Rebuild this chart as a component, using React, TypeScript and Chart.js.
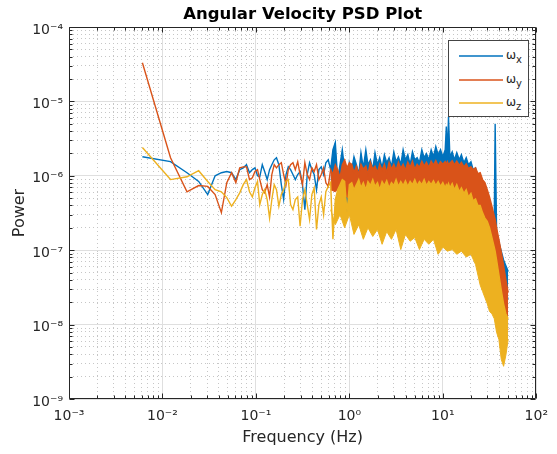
import React, { useEffect, useRef } from 'react';
import { Chart, registerables } from 'chart.js';

Chart.register(...registerables);

// ---------- data ----------
const FREQS = [
  0.0061, 0.0122, 0.0183, 0.0244, 0.0305, 0.0366, 0.0427, 0.0488, 0.0549, 0.061,
  0.0671, 0.0732, 0.0793, 0.0854, 0.0916, 0.0977, 0.104, 0.11, 0.117, 0.124,
  0.132, 0.14, 0.148, 0.157, 0.166, 0.176, 0.187, 0.198, 0.21, 0.222,
  0.235, 0.249, 0.264, 0.28, 0.297, 0.315, 0.334, 0.354, 0.375, 0.397,
  0.42, 0.445, 0.472, 0.5, 0.53, 0.56, 0.594, 0.63, 0.667, 0.707,
  0.75, 0.794, 0.84, 0.89, 0.944, 1.0, 1.06, 1.12, 1.19, 1.26,
  1.33, 1.41, 1.5, 1.58, 1.68, 1.78, 1.88, 2.0, 2.11, 2.24,
  2.37, 2.51, 2.66, 2.82, 2.99, 3.16, 3.35, 3.55, 3.76, 3.98,
  4.22, 4.47, 4.73, 5.01, 5.31, 5.62, 5.96, 6.31, 6.68, 7.08,
  7.5, 7.94, 8.41, 8.91, 9.44, 10.0, 10.6, 10.9, 11.2, 11.5,
  11.9, 12.6, 13.3, 14.1, 15.0, 15.8, 16.8, 17.8, 18.8, 20.0,
  21.1, 22.4, 23.7, 25.1, 26.6, 28.2, 29.9, 31.6, 33.5, 35.5,
  36.3, 37.6, 39.8, 42.2, 44.7, 47.3, 50.0,
];

const OMEGA_X = [
  1.8e-6, 1.55e-6, 1.1e-6, 8.4e-7, 5.6e-7, 1.0e-6, 1.1e-6, 1.14e-6, 1.1e-6, 8.9e-7,
  1.21e-6, 1.28e-6, 1.41e-6, 1.1e-6, 1.21e-6, 1.28e-6, 1.0e-6, 9.7e-7, 1.41e-6, 1.14e-6,
  8.9e-7, 1.21e-6, 1.41e-6, 1.64e-6, 1.75e-6, 1.41e-6, 7.6e-7, 4.8e-7, 1.04e-6, 1.32e-6,
  1.21e-6, 1.04e-6, 8.9e-7, 1.04e-6, 1.14e-6, 7.6e-7, 3.5e-7, 1.04e-6, 1.5e-6, 1.21e-6,
  1.04e-6, 6.5e-7, 1.21e-6, 1.32e-6, 1.04e-6, 1.5e-6, 1.64e-6, 1.21e-6, 2.24e-6, 2.8e-6,
  8.9e-7, 1.41e-6, 2.24e-6, 1.21e-6, 2.6e-7, 1.5e-6, 1.21e-6, 1.8e-6, 1.41e-6, 1.04e-6,
  2.04e-6, 1.28e-6, 2.24e-6, 1.41e-6, 1.64e-6, 1.21e-6, 2.04e-6, 1.41e-6, 1.75e-6, 1.28e-6,
  1.92e-6, 1.5e-6, 1.75e-6, 1.32e-6, 2.1e-6, 1.55e-6, 1.8e-6, 1.41e-6, 2.24e-6, 1.64e-6,
  1.92e-6, 1.41e-6, 2.1e-6, 1.64e-6, 1.75e-6, 1.5e-6, 2.24e-6, 1.75e-6, 1.98e-6, 1.64e-6,
  2.24e-6, 1.8e-6, 2.47e-6, 1.92e-6, 2.24e-6, 1.8e-6, 2.24e-6, 4.6e-6, 1.92e-6, 6.2e-6,
  1.8e-6, 2.1e-6, 1.64e-6, 2.04e-6, 1.64e-6, 1.92e-6, 1.5e-6, 1.75e-6, 1.41e-6, 1.55e-6,
  1.21e-6, 1.28e-6, 9.7e-7, 1.0e-6, 7.4e-7, 6.5e-7, 5.2e-7, 4.1e-7, 3.3e-7, 2.6e-7,
  5.0e-6, 1.78e-7, 1.28e-7, 9.7e-8, 7.4e-8, 6.2e-8, 5.2e-8,
];

const OMEGA_Y = [
  3.3e-5, 1.75e-6, 6.1e-7, 7.4e-7, 7.2e-7, 5.6e-7, 3.2e-7, 8.1e-7, 1.1e-6, 8.1e-7,
  1.28e-6, 1.32e-6, 1.32e-6, 8.9e-7, 9.4e-7, 1.14e-6, 1.21e-6, 8.9e-7, 6.5e-7, 5.9e-7,
  7.6e-7, 5.2e-7, 1.04e-6, 1.41e-6, 1.28e-6, 1.41e-6, 1.5e-6, 1.04e-6, 7.6e-7, 1.21e-6,
  1.41e-6, 1.5e-6, 1.21e-6, 1.55e-6, 1.04e-6, 7.6e-7, 1.5e-6, 1.04e-6, 8.9e-7, 1.28e-6,
  1.14e-6, 1.41e-6, 8.9e-7, 1.04e-6, 1.28e-6, 8.1e-7, 7.2e-7, 1.21e-6, 1.04e-6, 1.41e-6,
  1.21e-6, 9.4e-7, 1.41e-6, 1.64e-6, 1.28e-6, 1.5e-6, 1.43e-6, 1.11e-6, 1.35e-6, 1.05e-6,
  1.43e-6, 1.23e-6, 1.35e-6, 1.05e-6, 1.52e-6, 1.23e-6, 1.35e-6, 1.11e-6, 1.43e-6, 1.19e-6,
  1.43e-6, 1.11e-6, 1.52e-6, 1.23e-6, 1.43e-6, 1.19e-6, 1.52e-6, 1.26e-6, 1.43e-6, 1.19e-6,
  1.52e-6, 1.3e-6, 1.57e-6, 1.23e-6, 1.43e-6, 1.3e-6, 1.57e-6, 1.35e-6, 1.52e-6, 1.3e-6,
  1.57e-6, 1.39e-6, 1.6e-6, 1.35e-6, 1.55e-6, 1.43e-6, 1.55e-6, 1.43e-6, 1.55e-6, 1.43e-6,
  1.48e-6, 1.6e-6, 1.4e-6, 1.58e-6, 1.38e-6, 1.52e-6, 1.32e-6, 1.45e-6, 1.25e-6, 1.32e-6,
  1.21e-6, 1.28e-6, 1.07e-6, 1.1e-6, 8.9e-7, 8.1e-7, 6.5e-7, 5.2e-7, 3.9e-7, 2.9e-7,
  2.6e-7, 2.0e-7, 1.4e-7, 9.4e-8, 6.2e-8, 4.0e-8, 2.7e-8,
];

const OMEGA_Z = [
  2.4e-6, 8.9e-7, 9.7e-7, 1.17e-6, 8.4e-7, 6.5e-7, 6.1e-7, 5.1e-7, 3.9e-7, 4.8e-7,
  5.9e-7, 7.6e-7, 8.9e-7, 6.1e-7, 5.2e-7, 6.9e-7, 8.4e-7, 4.1e-7, 5.6e-7, 6.5e-7,
  4.8e-7, 2.7e-7, 4.8e-7, 7.6e-7, 6.5e-7, 3.9e-7, 5.6e-7, 6.5e-7, 8.4e-7, 8.9e-7,
  4.1e-7, 3.5e-7, 4.8e-7, 5.2e-7, 2.1e-7, 4.8e-7, 6.5e-7, 4.1e-7, 2.6e-7, 5.6e-7,
  6.9e-7, 1.9e-7, 4.1e-7, 5.2e-7, 3.0e-7, 6.1e-7, 7.2e-7, 8.1e-7, 1.4e-7, 4.8e-7,
  6.5e-7, 7.6e-7, 8.9e-7, 8.4e-7, 3.2e-7, 7.6e-7, 8.1e-7, 6.5e-7, 7.6e-7, 8.9e-7,
  6.9e-7, 8.1e-7, 6.5e-7, 8.4e-7, 7.4e-7, 8.9e-7, 7.2e-7, 8.1e-7, 6.5e-7, 8.4e-7,
  7.4e-7, 8.6e-7, 6.9e-7, 8.1e-7, 7.4e-7, 8.9e-7, 7.2e-7, 8.4e-7, 7.4e-7, 8.6e-7,
  7.2e-7, 8.4e-7, 7.6e-7, 8.9e-7, 7.4e-7, 8.4e-7, 7.6e-7, 8.9e-7, 7.4e-7, 8.4e-7,
  7.6e-7, 8.6e-7, 7.4e-7, 8.4e-7, 7.2e-7, 8.1e-7, 6.9e-7, 7.6e-7, 7.2e-7, 7.9e-7,
  6.9e-7, 7.9e-7, 6.5e-7, 7.6e-7, 6.1e-7, 6.9e-7, 5.8e-7, 6.5e-7, 5.2e-7, 5.8e-7,
  4.6e-7, 4.9e-7, 4.0e-7, 4.0e-7, 3.2e-7, 2.7e-7, 2.45e-7, 2.0e-7, 1.48e-7, 1.1e-7,
  9.7e-8, 7.4e-8, 4.7e-8, 2.9e-8, 1.9e-8, 1.4e-8, 1.2e-8,
];

// lower edge of the dense (band-like) part of each spectrum
const BAND_FREQS = [
  0.63, 0.707, 0.794, 0.89,
  1.0, 1.12, 1.26, 1.41, 1.58, 1.78, 2.0, 2.24, 2.51, 2.82,
  3.16, 3.55, 3.98, 4.47, 5.01, 5.62, 6.31, 7.08, 7.94, 8.91,
  10.0, 11.2, 12.6, 14.1, 15.8, 17.8, 20.0, 22.4, 25.1, 26.6,
  28.2, 29.9, 31.6, 33.5, 35.5, 37.6, 39.8, 42.2, 44.7, 47.3, 50.0,
];

const OMEGA_X_LOW = [
  8.9e-7, 7.6e-7, 8.1e-7, 7.9e-7,
  7.6e-7, 7.2e-7, 8.0e-7, 7.4e-7, 7.8e-7, 7.2e-7, 7.6e-7, 7.9e-7, 7.3e-7, 7.6e-7,
  7.1e-7, 7.7e-7, 7.4e-7, 7.8e-7, 7.3e-7, 7.6e-7, 7.2e-7, 7.7e-7, 7.4e-7, 7.8e-7,
  7.3e-7, 7.6e-7, 7.4e-7, 7.7e-7, 7.3e-7, 7.5e-7, 7.6e-7, 6.9e-7, 6.5e-7, 5.6e-7,
  4.8e-7, 4.1e-7, 3.3e-7, 2.6e-7, 2.0e-7, 1.4e-7, 1.02e-7, 7.0e-8, 4.7e-8, 2.9e-8, 2.2e-8,
];

const OMEGA_Y_LOW = [
  6.5e-7, 6.1e-7, 6.9e-7, 5.6e-7,
  4.8e-7, 4.1e-7, 4.4e-7, 3.9e-7, 4.2e-7, 4.0e-7, 4.3e-7, 3.8e-7, 4.2e-7, 4.0e-7,
  4.3e-7, 3.9e-7, 4.1e-7, 4.4e-7, 3.9e-7, 4.2e-7, 4.0e-7, 4.3e-7, 3.9e-7, 4.1e-7,
  4.2e-7, 4.0e-7, 4.3e-7, 3.9e-7, 4.1e-7, 4.0e-7, 3.7e-7, 3.3e-7, 2.7e-7, 2.2e-7,
  2.0e-7, 1.78e-7, 1.4e-7, 1.02e-7, 7.4e-8, 5.2e-8, 3.4e-8, 2.2e-8, 1.4e-8, 1.0e-8, 8.5e-9,
];

const OMEGA_Z_LOW = [
  3.5e-7, 2.2e-7, 3.0e-7, 2.0e-7,
  3.0e-7, 1.63e-7, 2.2e-7, 1.4e-7, 2.0e-7, 1.53e-7, 1.9e-7, 1.2e-7, 1.78e-7, 1.4e-7,
  1.9e-7, 1.02e-7, 1.63e-7, 1.32e-7, 1.48e-7, 1.02e-7, 1.4e-7, 1.2e-7, 1.4e-7, 8.8e-8,
  1.1e-7, 9.7e-8, 1.02e-7, 8.8e-8, 9.7e-8, 8.1e-8, 8.8e-8, 6.4e-8, 3.4e-8, 2.8e-8,
  2.3e-8, 1.9e-8, 1.5e-8, 1.4e-8, 1.2e-8, 7.9e-9, 6.3e-9, 3.4e-9, 2.75e-9, 3.9e-9, 6.3e-9,
];

const SERIES_SUBS = ['x', 'y', 'z'];
const SERIES_COLORS = ['#0072BD', '#D95319', '#EDB120'];

const X_DECADES = [1e-3, 1e-2, 1e-1, 1, 10, 100];
const Y_DECADES = [1e-9, 1e-8, 1e-7, 1e-6, 1e-5, 1e-4];
const X_TICK_LABELS = ['10⁻³', '10⁻²', '10⁻¹', '10⁰', '10¹', '10²'];
const Y_TICK_LABELS = ['10⁻⁹', '10⁻⁸', '10⁻⁷', '10⁻⁶', '10⁻⁵', '10⁻⁴'];
const MANTISSAS = [1, 2, 3, 4, 5, 6, 7, 8, 9];

const TITLE = 'Angular Velocity PSD Plot';
const X_TITLE = 'Frequency (Hz)';
const Y_TITLE = 'Power';

// ---------- styling ----------
const FONT = "'DejaVu Sans', sans-serif";
const TEXT = '#262626';
const MAJOR_GRID = '#dfdfdf';
const MINOR_GRID = '#c6c6c6';

const buildTicks = (decades: number[]) => {
  const out: number[] = [];
  for (let i = 0; i < decades.length - 1; i++) {
    for (const m of MANTISSAS) out.push(decades[i] * m);
  }
  out.push(decades[decades.length - 1]);
  return out;
};
const X_TICKS = buildTicks(X_DECADES);
const Y_TICKS = buildTicks(Y_DECADES);

const isDecade = (v: number) => {
  if (!(v > 0)) return false;
  const l = Math.log10(v);
  return Math.abs(l - Math.round(l)) < 1e-6;
};
const labelFor = (decades: number[], labels: string[]) => (v: number | string) => {
  const n = Number(v);
  const i = decades.findIndex((d) => Math.abs(d - n) / d < 1e-6);
  return i >= 0 ? labels[i] : '';
};

const pts = (fs: number[], ps: number[]) => fs.map((f, i) => ({ x: f, y: ps[i] }));

const boxAndTicks = {
  id: 'boxAndTicks',
  afterDatasetsDraw(chart: any) {
    const { ctx, chartArea: a, scales } = chart;
    const xs = scales.x;
    const ys = scales.y;
    ctx.save();
    ctx.strokeStyle = TEXT;
    ctx.lineWidth = 1;
    ctx.beginPath();
    const L = Math.round(a.left) + 0.5;
    const R = Math.round(a.right) - 0.5;
    const T = Math.round(a.top) + 0.5;
    const B = Math.round(a.bottom) - 0.5;
    for (const t of xs.ticks) {
      const px = Math.round(xs.getPixelForValue(t.value)) + 0.5;
      const len = isDecade(t.value) ? 5 : 3;
      ctx.moveTo(px, B);
      ctx.lineTo(px, B - len);
      ctx.moveTo(px, T);
      ctx.lineTo(px, T + len);
    }
    for (const t of ys.ticks) {
      const py = Math.round(ys.getPixelForValue(t.value)) + 0.5;
      const len = isDecade(t.value) ? 5 : 3;
      ctx.moveTo(L, py);
      ctx.lineTo(L + len, py);
      ctx.moveTo(R, py);
      ctx.lineTo(R - len, py);
    }
    ctx.moveTo(L, T);
    ctx.lineTo(R, T);
    ctx.lineTo(R, B);
    ctx.lineTo(L, B);
    ctx.closePath();
    ctx.stroke();
    ctx.restore();
  },
};

export default function App() {
  const ref = useRef<HTMLCanvasElement | null>(null);

  useEffect(() => {
    if (!ref.current) return;
    const uppers = [OMEGA_X, OMEGA_Y, OMEGA_Z];
    const lowers = [OMEGA_X_LOW, OMEGA_Y_LOW, OMEGA_Z_LOW];
    const datasets: any[] = [];
    uppers.forEach((u, i) => {
      datasets.push({
        label: 'ω' + SERIES_SUBS[i],
        data: pts(FREQS, u),
        borderColor: SERIES_COLORS[i],
        backgroundColor: SERIES_COLORS[i],
        borderWidth: 1.4,
        pointRadius: 0,
        fill: false,
        order: 2 * (3 - i) - 1,
      });
    });
    lowers.forEach((l, i) => {
      datasets.push({
        label: 'ω' + SERIES_SUBS[i] + ' band',
        data: pts(BAND_FREQS, l),
        borderColor: SERIES_COLORS[i],
        backgroundColor: SERIES_COLORS[i],
        borderWidth: 1,
        pointRadius: 0,
        fill: '-3',
        order: 2 * (3 - i),
      });
    });

    const gridScale = (axis: 'x' | 'y', decades: number[], ticks: number[], major: boolean) => ({
      type: 'logarithmic',
      axis,
      min: decades[0],
      max: decades[decades.length - 1],
      afterBuildTicks: (s: any) => {
        s.ticks = ticks.map((v) => ({ value: v, major: isDecade(v) }));
      },
      grid: {
        drawTicks: false,
        lineWidth: 1,
        color: (c: any) => {
          const dec = c.tick ? isDecade(c.tick.value) : false;
          if (major) return dec ? MAJOR_GRID : 'rgba(0,0,0,0)';
          return dec ? 'rgba(0,0,0,0)' : MINOR_GRID;
        },
      },
      border: { display: false, dash: major ? [] : [1, 3] },
    });

    const chart = new Chart(ref.current, {
      type: 'line',
      data: { datasets },
      plugins: [boxAndTicks],
      options: {
        animation: false,
        responsive: false,
        devicePixelRatio: 1,
        layout: { padding: { left: 0, right: 16, top: 0, bottom: 0 } },
        plugins: {
          legend: { display: false },
          tooltip: { enabled: false },
          title: {
            display: true,
            text: TITLE,
            color: '#000',
            fullSize: false,
            font: { family: FONT, size: 16.5, weight: 'bold' },
            padding: { top: 4.6, bottom: 2.6 },
          },
        },
        scales: {
          x: {
            ...gridScale('x', X_DECADES, X_TICKS, true),
            position: 'bottom',
            afterFit: (s: any) => { s.height = 55; },
            ticks: {
              autoSkip: false,
              maxRotation: 0,
              padding: 9,
              color: TEXT,
              font: { family: FONT, size: 14 },
              callback: labelFor(X_DECADES, X_TICK_LABELS),
            },
            title: {
              display: true,
              text: X_TITLE,
              color: TEXT,
              font: { family: FONT, size: 16 },
              padding: { top: 0, bottom: 6.4 },
            },
          },
          x2: {
            ...gridScale('x', X_DECADES, X_TICKS, false),
            position: 'bottom',
            afterFit: (s: any) => { s.height = 0; },
            ticks: { display: false },
          },
          y: {
            ...gridScale('y', Y_DECADES, Y_TICKS, true),
            position: 'left',
            afterFit: (s: any) => { s.width = 69; },
            ticks: {
              autoSkip: false,
              padding: 6,
              labelOffset: 3,
              color: TEXT,
              font: { family: FONT, size: 14 },
              callback: labelFor(Y_DECADES, Y_TICK_LABELS),
            },
            title: {
              display: true,
              text: Y_TITLE,
              color: TEXT,
              font: { family: FONT, size: 16 },
              padding: { top: 10.4, bottom: 0 },
            },
          },
          y2: {
            ...gridScale('y', Y_DECADES, Y_TICKS, false),
            position: 'left',
            afterFit: (s: any) => { s.width = 0; },
            ticks: { display: false },
          },
        },
      } as any,
    });
    return () => chart.destroy();
  }, []);

  const legendY = [56, 79.5, 103];

  return (
    <div style={{ position: 'absolute', left: 0, top: 0, width: 557, height: 454 }}>
      <canvas ref={ref} width={557} height={454} style={{ display: 'block', width: 557, height: 454 }} />
      <div
        style={{
          position: 'absolute', left: 448, top: 40, width: 81, height: 77,
          boxSizing: 'border-box', border: '1.5px solid #444', background: '#fff',
        }}
      />
      {SERIES_SUBS.map((sub, i) => (
        <React.Fragment key={sub}>
          <div
            style={{
              position: 'absolute', left: 459, top: legendY[i] - 1, width: 44, height: 2,
              background: SERIES_COLORS[i], opacity: 0.75,
            }}
          />
          <div
            style={{
              position: 'absolute', left: 506, top: legendY[i] - 7, fontFamily: FONT,
              fontSize: 12, lineHeight: '12px', color: TEXT, whiteSpace: 'nowrap',
            }}
          >
            ω
            <sub style={{ fontSize: 10, verticalAlign: 'baseline', position: 'relative', top: 4 }}>{sub}</sub>
          </div>
        </React.Fragment>
      ))}
    </div>
  );
}
